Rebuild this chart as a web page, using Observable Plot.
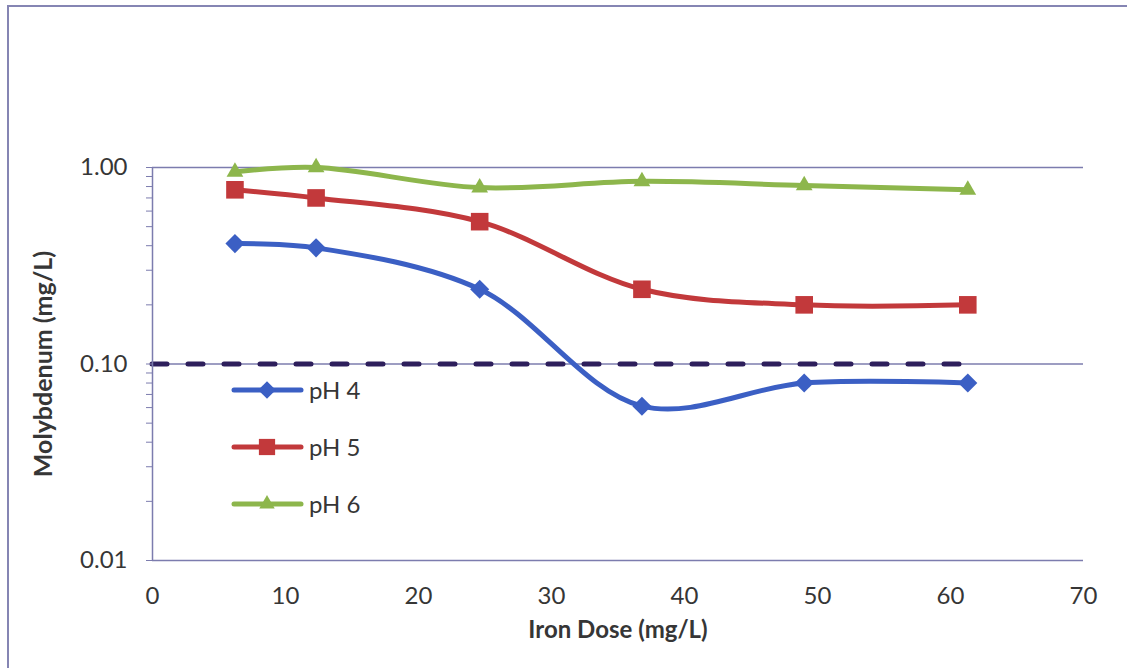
<!DOCTYPE html>
<html>
<head>
<meta charset="utf-8">
<script src="https://cdn.jsdelivr.net/npm/d3@7"></script>
<script src="https://cdn.jsdelivr.net/npm/@observablehq/plot@0.6"></script>
<style>
  html, body { margin: 0; padding: 0; background: #fff; }
  #wrap { position: relative; width: 1127px; height: 668px; overflow: hidden; background: #fff; }
  #frame { position: absolute; left: 7px; top: 5px; right: -10px; bottom: -10px;
           border-left: 2px solid #8585b3; border-top: 2px solid #8585b3; pointer-events: none; }
  #chart { position: absolute; left: 0; top: 0; }
  #legend { position: absolute; left: 0; top: 0; }
</style>
</head>
<body>
<div id="wrap">
  <div id="chart"></div>
  <svg id="legend" width="1127" height="668"></svg>
  <div id="frame"></div>
</div>
<script>
// ---- data ----
const seriesNames = ["pH 4", "pH 5", "pH 6"];
const ironDose = [6.2, 12.3, 24.6, 36.8, 49.0, 61.3];
const moPH4 = [0.41, 0.39, 0.24, 0.061, 0.080, 0.080];
const moPH5 = [0.77, 0.70, 0.53, 0.24, 0.20, 0.20];
const moPH6 = [0.95, 1.00, 0.79, 0.85, 0.81, 0.77];
const seriesValues = [moPH4, moPH5, moPH6];
const xTicks = [0, 10, 20, 30, 40, 50, 60, 70];
const yTicks = [0.01, 0.1, 1];
const yMinorTicks = [0.02, 0.03, 0.04, 0.05, 0.06, 0.07, 0.08, 0.09,
                     0.2, 0.3, 0.4, 0.5, 0.6, 0.7, 0.8, 0.9];
const thresholdValue = [0.1];
const thresholdStart = 0;
const thresholdEnd = 62.2;

// ---- styles ----
const colors = ["#3b5fc4", "#c2393b", "#8db64c"];
const symbols = ["diamond2", "square2", "triangle2"];
const symbolR = [8.6, 11.2, 8.0];
const textColor = "#363636";
const axisColor = "#7c7cae";
const font = "Lato, 'Open Sans', sans-serif";
const fs = 24;

const rows = [];
seriesNames.forEach((s, i) => ironDose.forEach((d, j) => rows.push({series: s, dose: d, mo: seriesValues[i][j]})));

const marks = [
  Plot.ruleY(yTicks, {stroke: axisColor, strokeWidth: 1.5}),
  Plot.ruleY(thresholdValue, {x1: thresholdStart, x2: thresholdEnd, stroke: "#2e1f5c", strokeWidth: 5,
    strokeDasharray: "15,21", strokeLinecap: "round"}),
  Plot.ruleX([0], {stroke: axisColor, strokeWidth: 1.5}),
  Plot.axisY({ticks: yMinorTicks, tickSize: 6, tickFormat: () => "", stroke: axisColor, label: null}),
  Plot.axisY({ticks: yTicks, tickSize: 6, tickPadding: 19, tickFormat: d3.format(".2f"),
    stroke: axisColor, fill: textColor, label: null, fontSize: fs}),
  Plot.axisX({ticks: xTicks, tickSize: 0, tickPadding: 26, fill: textColor, label: null, fontSize: fs}),
  Plot.text(["Iron Dose (mg/L)"], {frameAnchor: "bottom", dy: 77, textAnchor: "middle", fontWeight: "bold", fontSize: fs, fill: textColor}),
  Plot.text(["Molybdenum (mg/L)"], {frameAnchor: "left", dx: -109, rotate: -90, textAnchor: "middle", fontWeight: "bold", fontSize: 25, fill: textColor}),
];
seriesNames.forEach((s, i) => {
  const sub = rows.filter(r => r.series === s);
  marks.push(Plot.line(sub, {x: "dose", y: "mo", stroke: colors[i], strokeWidth: 5, curve: "catmull-rom"}));
});
seriesNames.forEach((s, i) => {
  const sub = rows.filter(r => r.series === s);
  marks.push(Plot.dot(sub, {x: "dose", y: "mo", symbol: () => symbols[i], fill: colors[i], stroke: "none", r: symbolR[i]}));
});

const chart = Plot.plot({
  width: 1127, height: 668,
  marginLeft: 152, marginRight: 44, marginTop: 167, marginBottom: 108,
  style: {fontFamily: font, fontSize: fs + "px", background: "transparent", overflow: "visible"},
  x: {domain: [0, 70], axis: null},
  y: {type: "log", domain: [0.01, 1], axis: null},
  symbol: {domain: symbols, range: symbols},
  marks
});
document.getElementById("chart").appendChild(chart);

// ---- legend ----
const leg = d3.select("#legend");
const legY = [390, 447, 504];
seriesNames.forEach((s, i) => {
  const g = leg.append("g").attr("transform", `translate(0,${legY[i]})`);
  g.append("line").attr("x1", 234).attr("x2", 301).attr("y1", 0).attr("y2", 0)
    .attr("stroke", colors[i]).attr("stroke-width", 5).attr("stroke-linecap", "round");
  const symType = [d3.symbolDiamond2, d3.symbolSquare2, d3.symbolTriangle2][i];
  g.append("path").attr("transform", "translate(267,0)")
    .attr("d", d3.symbol(symType, Math.PI * symbolR[i] * symbolR[i] * 0.85)())
    .attr("fill", colors[i]);
  g.append("text").attr("x", 309).attr("y", 0).attr("dy", "0.36em")
    .attr("font-family", font).attr("font-size", fs).attr("fill", textColor).text(s);
});
</script>
</body>
</html>
